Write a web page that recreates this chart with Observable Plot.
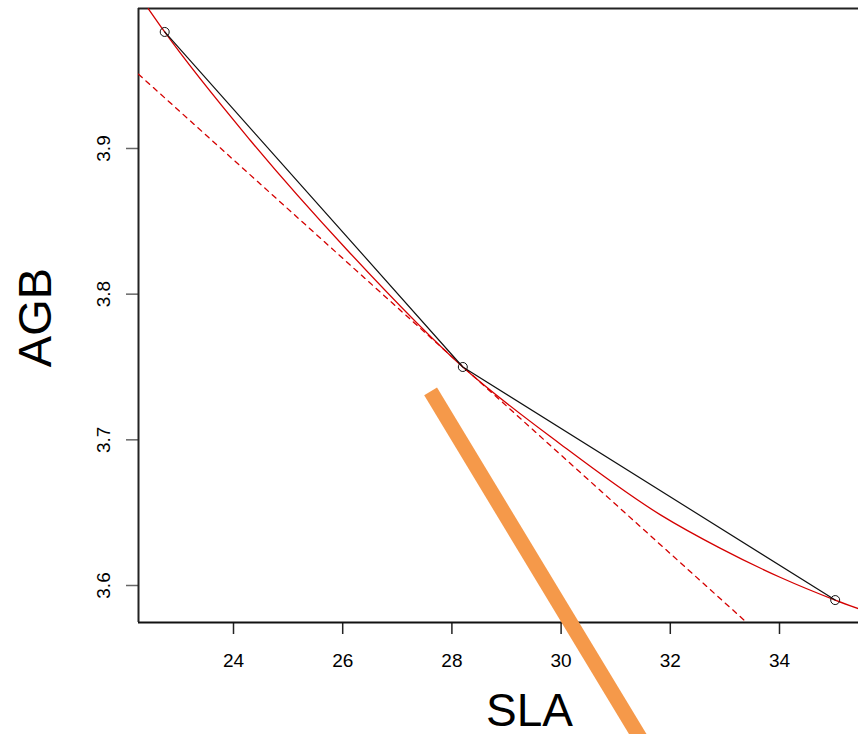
<!DOCTYPE html>
<html><head><meta charset="utf-8">
<script src="https://cdn.jsdelivr.net/npm/d3@7"></script>
<script src="https://cdn.jsdelivr.net/npm/@observablehq/plot@0.6"></script>
<style>html,body{margin:0;padding:0;background:#fff}#chart svg{display:block}</style>
</head><body><div id="chart"></div>
<script>
// observed points
const sla = [22.74, 28.2, 35.02];
const agb = [3.98, 3.75, 3.59];
// red fitted curve
const fitSla = [22.44, 22.74, 24.31, 26.09, 28.2, 29.99, 31.82, 32.92, 34.02, 35.02, 35.45];
const fitAgb = [3.996, 3.98, 3.9055, 3.83, 3.75, 3.697, 3.6485, 3.6255, 3.6055, 3.59, 3.584];
// red dashed tangent at the middle point
const tangentSla = [22.26, 33.4];
const tangentAgb = [3.951, 3.5746];
// orange annotation stroke
const markSla = [27.61, 31.64];
const markAgb = [3.7332, 3.4834];
// axes
const xTicks = [24, 26, 28, 30, 32, 34];
const yTicks = [3.6, 3.7, 3.8, 3.9];
const xDomain = [22.26, 35.447];
const yDomain = [3.5746, 3.9961];

const pts = sla.map((s, i) => ({s, a: agb[i]}));
const fit = fitSla.map((s, i) => ({s, a: fitAgb[i]}));
const tan = tangentSla.map((s, i) => ({s, a: tangentAgb[i]}));
const mk = markSla.map((s, i) => ({s, a: markAgb[i]}));

const chart = Plot.plot({
  width: 858, height: 734,
  marginLeft: 138, marginRight: 0, marginTop: 8, marginBottom: 112,
  x: {domain: xDomain},
  y: {domain: yDomain},
  style: {fontFamily: "'Liberation Sans', Arial, Helvetica, sans-serif", background: "#fff", color: "#000"},
  marks: [
    Plot.axisX(xTicks, {tickSize: 12, tickPadding: 19, fontSize: 19, stroke: "#222", strokeWidth: 1.5, label: null, tickFormat: d => String(d)}),
    Plot.axisY(yTicks, {tickSize: 12, tickFormat: () => "", stroke: "#666", strokeWidth: 1.5, label: null}),
    Plot.text(yTicks, {y: d => d, frameAnchor: "left", text: d => d.toFixed(1), rotate: -90, dx: -29, lineAnchor: "bottom", textAnchor: "middle", fontSize: 19, fill: "#000"}),
    Plot.ruleY([yDomain[1]], {stroke: "#222", strokeWidth: 2}),
    Plot.ruleY([yDomain[0]], {stroke: "#111", strokeWidth: 2}),
    Plot.ruleX([xDomain[0]], {stroke: "#222", strokeWidth: 2}),
    Plot.line(tan, {x: "s", y: "a", stroke: "#d40000", strokeWidth: 1.3, strokeDasharray: "5,5", clip: true}),
    Plot.line(fit, {x: "s", y: "a", stroke: "#d40000", strokeWidth: 1.3, curve: "monotone-x", clip: true}),
    Plot.line(pts, {x: "s", y: "a", stroke: "#111", strokeWidth: 1.2}),
    Plot.dot(pts, {x: "s", y: "a", r: 4.5, stroke: "#111", strokeWidth: 1, fill: "none"}),
    Plot.text(["SLA"], {frameAnchor: "bottom", dx: 31, dy: 103, lineAnchor: "bottom", fontSize: 46, fill: "#000"}),
    Plot.text(["AGB"], {frameAnchor: "left", rotate: -90, dx: -88, dy: 2, lineAnchor: "bottom", textAnchor: "middle", fontSize: 47, fill: "#000"}),
    Plot.line(mk, {x: "s", y: "a", stroke: "#f5994a", strokeWidth: 15, strokeLinecap: "butt"})
  ]
});
document.getElementById("chart").appendChild(chart);
</script>
</body></html>
